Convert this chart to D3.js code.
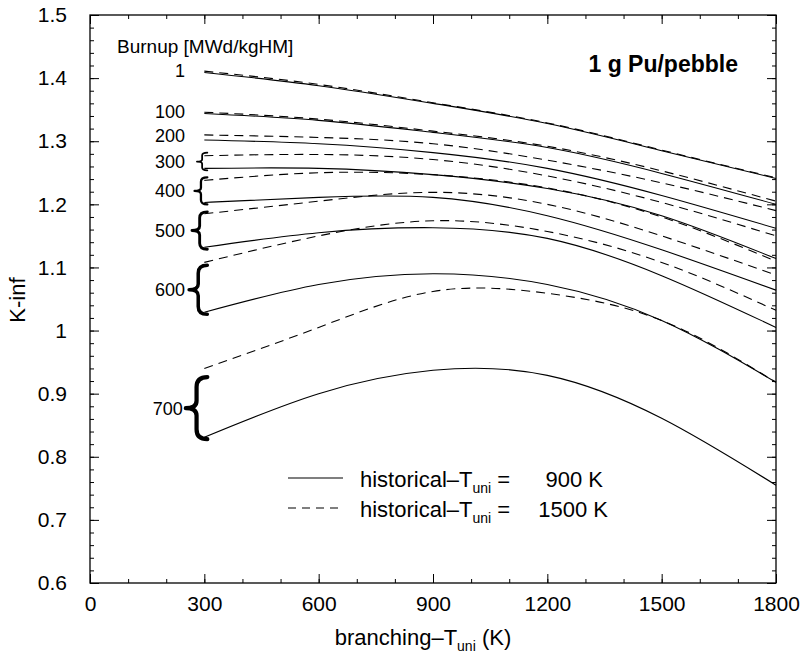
<!DOCTYPE html>
<html><head><meta charset="utf-8">
<script src="https://cdn.jsdelivr.net/npm/d3@7"></script>
<style>
body{margin:0;background:#fff;}
text{font-family:"Liberation Sans",Arial,Helvetica,sans-serif;fill:#000;}
</style></head>
<body>
<svg id="chart" width="804" height="656"></svg>
<script>
// ---- data ----
const temps = [300, 600, 900, 1200, 1500, 1800];          // branching-T_uni (K)
const burnups = [1, 100, 200, 300, 400, 500, 600, 700];    // MWd/kgHM
// historical T_uni = 900 K (solid)
const kinfHist900 = [
  [1.409, 1.388, 1.360, 1.328, 1.285, 1.241],
  [1.344, 1.333, 1.314, 1.290, 1.249, 1.200],
  [1.302, 1.296, 1.282, 1.257, 1.214, 1.162],
  [1.257, 1.257, 1.247, 1.225, 1.182, 1.114],
  [1.203, 1.211, 1.211, 1.182, 1.128, 1.064],
  [1.132, 1.155, 1.163, 1.146, 1.087, 1.005],
  [1.029, 1.073, 1.090, 1.073, 1.016, 0.918],
  [0.831, 0.900, 0.937, 0.929, 0.861, 0.755]
];
// historical T_uni = 1500 K (dashed)
const kinfHist1500 = [
  [1.411, 1.390, 1.361, 1.329, 1.286, 1.242],
  [1.346, 1.335, 1.316, 1.292, 1.253, 1.205],
  [1.310, 1.306, 1.296, 1.270, 1.234, 1.190],
  [1.277, 1.279, 1.271, 1.245, 1.203, 1.150],
  [1.238, 1.250, 1.247, 1.226, 1.180, 1.110],
  [1.185, 1.205, 1.219, 1.200, 1.150, 1.088],
  [1.108, 1.150, 1.174, 1.157, 1.108, 1.032],
  [0.940, 1.005, 1.062, 1.059, 1.016, 0.918]
];
const xTickLabels = ["0", "300", "600", "900", "1200", "1500", "1800"];
const yTickLabels = ["0.6", "0.7", "0.8", "0.9", "1", "1.1", "1.2", "1.3", "1.4", "1.5"];
const bracedBurnups = [300, 400, 500, 600, 700];
const legendValues = ["900 K", "1500 K"];

// ---- layout ----
const svg = d3.select("#chart");
const L = 90, R = 776, T = 15, B = 583;
const x = d3.scaleLinear().domain([0, 1800]).range([L, R]);
const y = d3.scaleLinear().domain([0.6, 1.5]).range([B, T]);

const xMajor = xTickLabels.map(Number);
const yMajor = yTickLabels.map(Number);
const xMinor = d3.range(0, 1801, 100);
const yMinor = d3.range(0, 46).map(i => +(0.6 + i * 0.02).toFixed(2));

function styleAxis(g) {
  g.select(".domain").remove();
  g.selectAll(".tick line").attr("stroke", "#000").attr("stroke-width", 1);
}

// bottom
svg.append("g").attr("transform", `translate(0,${B})`)
  .call(d3.axisBottom(x).tickValues(xMinor).tickSize(-4).tickFormat("")).call(styleAxis);
svg.append("g").attr("transform", `translate(0,${B})`)
  .call(d3.axisBottom(x).tickValues(xMajor).tickSize(-9).tickPadding(13)
    .tickFormat((d, i) => xTickLabels[i]))
  .call(styleAxis)
  .selectAll("text").style("font-size", "21px");
// top
svg.append("g").attr("transform", `translate(0,${T})`)
  .call(d3.axisTop(x).tickValues(xMinor).tickSize(-4).tickFormat("")).call(styleAxis);
svg.append("g").attr("transform", `translate(0,${T})`)
  .call(d3.axisTop(x).tickValues(xMajor).tickSize(-9).tickFormat("")).call(styleAxis);
// left
svg.append("g").attr("transform", `translate(${L},0)`)
  .call(d3.axisLeft(y).tickValues(yMinor).tickSize(-4).tickFormat("")).call(styleAxis);
svg.append("g").attr("transform", `translate(${L},0)`)
  .call(d3.axisLeft(y).tickValues(yMajor).tickSize(-9).tickPadding(23)
    .tickFormat((d, i) => yTickLabels[i]))
  .call(styleAxis)
  .selectAll("text").style("font-size", "21px");
// right
svg.append("g").attr("transform", `translate(${R},0)`)
  .call(d3.axisRight(y).tickValues(yMinor).tickSize(-4).tickFormat("")).call(styleAxis);
svg.append("g").attr("transform", `translate(${R},0)`)
  .call(d3.axisRight(y).tickValues(yMajor).tickSize(-9).tickFormat("")).call(styleAxis);

// frame
svg.append("rect").attr("x", L).attr("y", T).attr("width", R - L).attr("height", B - T)
  .attr("fill", "none").attr("stroke", "#000").attr("stroke-width", 1.3);

// ---- curves ----
const line = d3.line()
  .x((d, i) => x(temps[i]))
  .y(d => y(d))
  .curve(d3.curveNatural);

const gC = svg.append("g");
gC.selectAll("path.solid").data(kinfHist900).join("path")
  .attr("class", "solid").attr("d", line)
  .attr("fill", "none").attr("stroke", "#000").attr("stroke-width", 1.1);
gC.selectAll("path.dashed").data(kinfHist1500).join("path")
  .attr("class", "dashed").attr("d", line)
  .attr("fill", "none").attr("stroke", "#000").attr("stroke-width", 1.1)
  .attr("stroke-dasharray", "9,6");

// ---- burnup labels and braces ----
svg.append("text").attr("x", 117).attr("y", 53).style("font-size", "19px")
  .text("Burnup [MWd/kgHM]");

function bracePath(xr, w, y0, y1) {
  const h = y1 - y0, ym = (y0 + y1) / 2, xl = xr - w, xc = xl + w * 0.5;
  return `M${xr},${y0} Q${xc},${y0} ${xc},${y0 + h * 0.16} L${xc},${ym - h * 0.12} ` +
         `Q${xc},${ym} ${xl},${ym} Q${xc},${ym} ${xc},${ym + h * 0.12} ` +
         `L${xc},${y1 - h * 0.16} Q${xc},${y1} ${xr},${y1}`;
}

burnups.forEach((b, i) => {
  const yD = y(kinfHist1500[i][0]), yS = y(kinfHist900[i][0]);
  const xr = x(temps[0]) + 3;
  let labelX = 185, labelY;
  if (bracedBurnups.includes(b)) {
    const h0 = yS - yD;
    const top = yD - 3 + Math.max(0, h0 - 30) * 0.3;
    const bot = yS + 2;
    const h = bot - top;
    const w = 6 + h * 0.25;
    svg.append("path").attr("d", bracePath(xr, w, top, bot))
      .attr("fill", "none").attr("stroke", "#000")
      .attr("stroke-width", 0.8 + h * 0.055)
      .attr("stroke-linecap", "round").attr("stroke-linejoin", "round");
    labelX = Math.min(185, xr - w - 3);
    labelY = (top + bot) / 2 + 6.5;
  } else {
    labelY = (yD + yS) / 2 + 5;
  }
  svg.append("text").attr("x", labelX).attr("y", labelY)
    .attr("text-anchor", "end").style("font-size", "18px").text(b);
});

// title
svg.append("text").attr("x", 738).attr("y", 72).attr("text-anchor", "end")
  .style("font-size", "23px").style("font-weight", "bold").text("1 g Pu/pebble");

// ---- legend ----
const legendRows = [
  {dash: null, yy: 478, right: 603},
  {dash: "8,6", yy: 508, right: 608}
];
legendRows.forEach((d, i) => {
  svg.append("line").attr("x1", 288).attr("x2", 343).attr("y1", d.yy).attr("y2", d.yy)
    .attr("stroke", "#000").attr("stroke-width", 1.1)
    .attr("stroke-dasharray", d.dash);
  const by = d.yy + 9;
  const t = svg.append("text").attr("x", 360).attr("y", by).style("font-size", "22px");
  t.append("tspan").text("historical–T");
  t.append("tspan").attr("dy", 6).style("font-size", "14px").text("uni");
  t.append("tspan").attr("dy", -6).text(" =");
  svg.append("text").attr("x", d.right).attr("y", by).attr("text-anchor", "end")
    .style("font-size", "22px").text(legendValues[i]);
});

// ---- axis titles ----
const xt = svg.append("text").attr("x", 423).attr("y", 645).attr("text-anchor", "middle")
  .style("font-size", "22px");
xt.append("tspan").text("branching–T");
xt.append("tspan").attr("dy", 6).style("font-size", "14px").text("uni");
xt.append("tspan").attr("dy", -6).text(" (K)");

svg.append("text").attr("transform", "translate(25,300) rotate(-90)")
  .attr("text-anchor", "middle").style("font-size", "22px").text("K-inf");
</script>
</body></html>
